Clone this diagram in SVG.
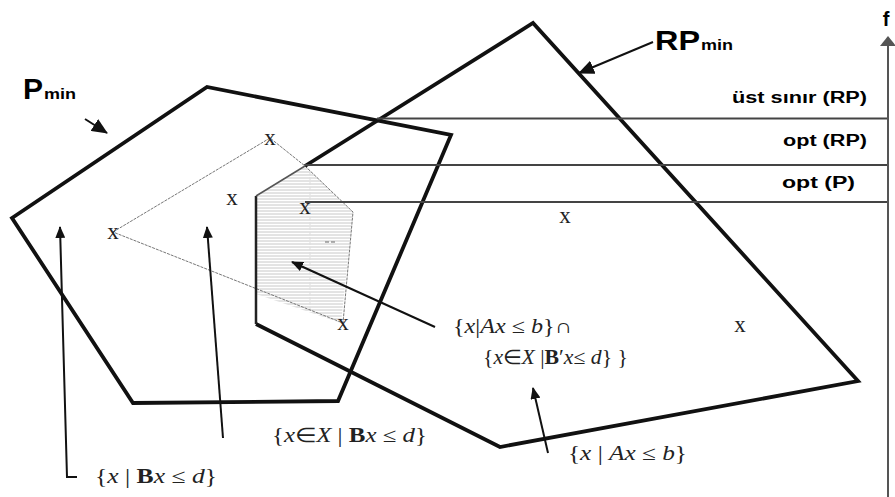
<svg xmlns="http://www.w3.org/2000/svg" width="895" height="497" viewBox="0 0 895 497">
<style>
.thick{fill:none;stroke:#111;stroke-width:3.8;stroke-linejoin:miter}
.thin{fill:none;stroke:#777;stroke-width:1;stroke-dasharray:3 1}
.hline{stroke:#444;stroke-width:2.2;fill:none}
.conn{stroke:#111;stroke-width:2;fill:none}
.xm{font-family:"Liberation Serif",serif;font-size:23px;fill:#222;text-anchor:middle}
.lbl{font-family:"Liberation Sans",Arial,sans-serif;font-weight:bold;fill:#000}
.math{font-family:"Liberation Serif",serif;font-size:20px;fill:#222}
.it{font-style:italic}
.bd{font-weight:bold}
</style>
<defs>
<marker id="ah" viewBox="0 0 12 10" refX="11" refY="5" markerWidth="12" markerHeight="10" markerUnits="userSpaceOnUse" orient="auto">
<path d="M0,0 L12,5 L0,10 Z" fill="#111"/>
</marker>
<marker id="ahb" viewBox="0 0 16 14" refX="15" refY="7" markerWidth="16" markerHeight="14" markerUnits="userSpaceOnUse" orient="auto">
<path d="M0,0 L16,7 L0,14 Z" fill="#111"/>
</marker>
<pattern id="hatch" width="6" height="3" patternUnits="userSpaceOnUse">
<line x1="0" y1="1" x2="6" y2="1" stroke="#c8c8c8" stroke-width="1"/>
</pattern>
</defs>

<g id="intersection">
<polygon points="256,196 305,166 353,212 341,323 256,294" fill="url(#hatch)" stroke="none"/>
<line x1="310" y1="172" x2="310" y2="312" stroke="#ddd" stroke-width="1" stroke-dasharray="3 2"/>
<line x1="325" y1="242" x2="329" y2="242" stroke="#666" stroke-width="1"/>
<line x1="331" y1="242" x2="335" y2="242" stroke="#666" stroke-width="1"/>
</g>

<g id="b-region">
<polygon class="thin" points="113,232 270,138 305,166 353,212 343,323"/>
</g>

<g id="p-min">
<polygon class="thick" points="12,218 207,87 451,135 338,401 133,403"/>
</g>

<g id="rp-min">
<path class="thick" d="M305,166 L533,23 L858,381 L500,447 L256,324"/>
<line x1="256" y1="324" x2="256" y2="196" stroke="#222" stroke-width="2.5"/>
<line x1="256" y1="196" x2="305" y2="166" stroke="#555" stroke-width="1.5"/>
</g>

<g id="levels">
<line class="hline" x1="377" y1="118.5" x2="888" y2="118.5"/>
<line class="hline" x1="305" y1="165" x2="888" y2="165"/>
<line class="hline" x1="305" y1="202" x2="888" y2="202"/>
</g>

<g id="axis">
<line x1="888" y1="497" x2="888" y2="40" stroke="#555" stroke-width="2"/>
<path d="M880,46 L888,36 L896,46 Z" fill="#555"/>
<text class="lbl" x="886" y="26" font-size="20" text-anchor="middle">f</text>
</g>

<g id="points">
<text class="xm" x="113" y="239">x</text>
<text class="xm" x="270" y="145">x</text>
<text class="xm" x="232" y="205">x</text>
<text class="xm" x="305" y="214">x</text>
<text class="xm" x="343" y="330">x</text>
<text class="xm" x="565" y="223">x</text>
<text class="xm" x="740" y="332">x</text>
</g>

<g id="connectors">
<line class="conn" x1="85" y1="119" x2="107" y2="133" marker-end="url(#ahb)"/>
<line class="conn" x1="653" y1="42" x2="579" y2="73" marker-end="url(#ahb)"/>
<polyline class="conn" points="77,477 67,477 60,227" marker-end="url(#ah)"/>
<line class="conn" x1="223" y1="438" x2="207" y2="227" marker-end="url(#ah)"/>
<line class="conn" x1="435" y1="327" x2="292" y2="262" marker-end="url(#ah)"/>
<line class="conn" x1="548" y1="453" x2="533" y2="388" marker-end="url(#ah)"/>
</g>

<g id="labels">
<text class="lbl" x="23" y="99" font-size="29" textLength="20" lengthAdjust="spacingAndGlyphs">P</text>
<text class="lbl" x="44" y="99" font-size="14" textLength="32" lengthAdjust="spacingAndGlyphs">min</text>
<text class="lbl" x="655" y="50" font-size="28" textLength="45" lengthAdjust="spacingAndGlyphs">RP</text>
<text class="lbl" x="701" y="50" font-size="14" textLength="32" lengthAdjust="spacingAndGlyphs">min</text>
<text class="lbl" x="732" y="103" font-size="16" textLength="135" lengthAdjust="spacingAndGlyphs">üst sınır (RP)</text>
<text class="lbl" x="783" y="146" font-size="16" textLength="84" lengthAdjust="spacingAndGlyphs">opt (RP)</text>
<text class="lbl" x="782" y="188" font-size="16" textLength="73" lengthAdjust="spacingAndGlyphs">opt (P)</text>

<text class="math" x="453" y="333" textLength="119" lengthAdjust="spacingAndGlyphs">{<tspan class="it">x</tspan>|<tspan class="it">Ax</tspan> ≤ <tspan class="it">b</tspan>}∩</text>
<text class="math" x="483" y="364" textLength="145" lengthAdjust="spacingAndGlyphs">{<tspan class="it">x</tspan>∈<tspan class="it">X</tspan> |<tspan class="bd">B</tspan>′<tspan class="it">x</tspan>≤ <tspan class="it">d</tspan>} }</text>
<text class="math" x="568" y="460" textLength="119" lengthAdjust="spacingAndGlyphs">{<tspan class="it">x</tspan> | <tspan class="it">Ax</tspan> ≤ <tspan class="it">b</tspan>}</text>
<text class="math" x="272" y="442" textLength="155" lengthAdjust="spacingAndGlyphs">{<tspan class="it">x</tspan>∈<tspan class="it">X</tspan> | <tspan class="bd">B</tspan><tspan class="it">x</tspan> ≤ <tspan class="it">d</tspan>}</text>
<text class="math" x="95" y="483" textLength="122" lengthAdjust="spacingAndGlyphs">{<tspan class="it">x</tspan> | <tspan class="bd">B</tspan><tspan class="it">x</tspan> ≤ <tspan class="it">d</tspan>}</text>
</g>
</svg>
